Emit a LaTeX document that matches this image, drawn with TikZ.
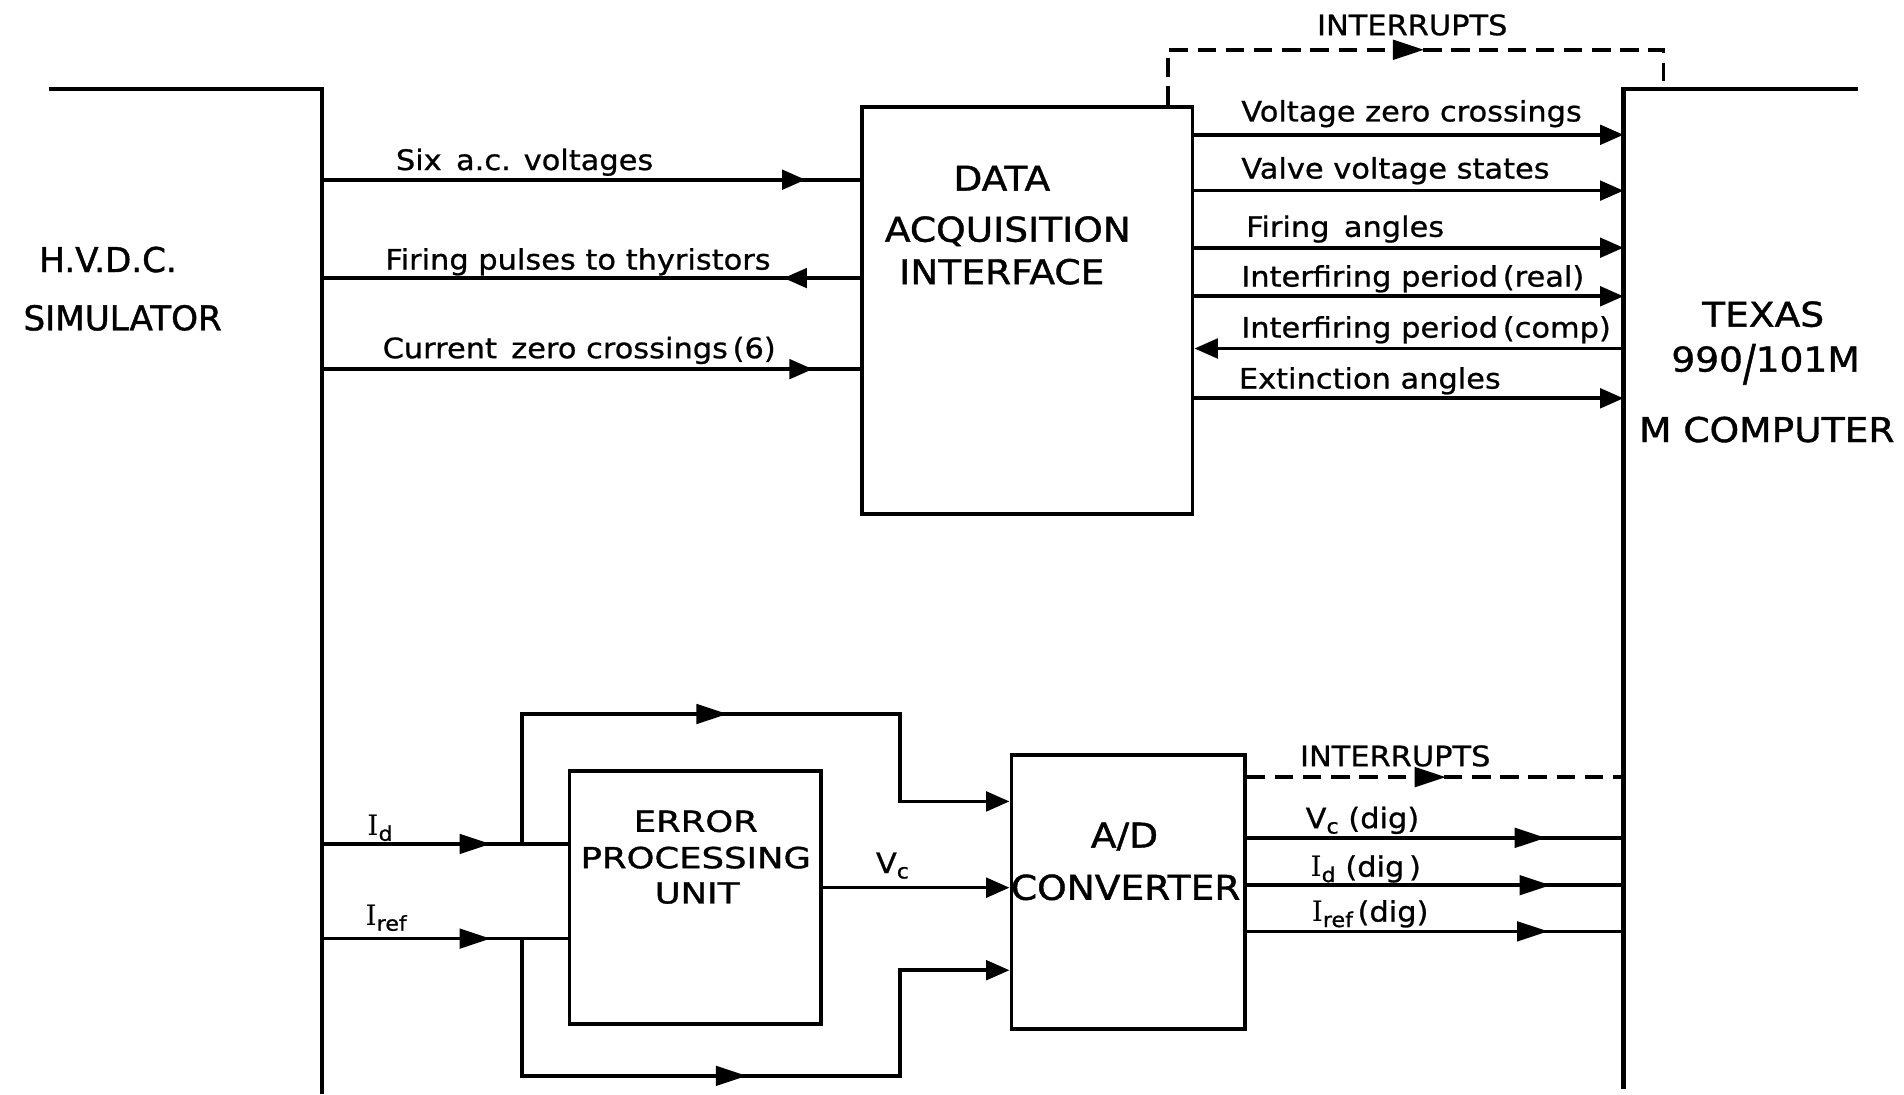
\documentclass[tikz,border=0pt]{standalone}
\usepackage{fontspec}
\usepackage{graphicx}
\setmainfont{DejaVu Sans}
\newfontfamily\serifI{DejaVu Serif}
\usetikzlibrary{arrows.meta,decorations.markings}
\newcommand\sbs[1]{\raisebox{-0.35ex}{\fontsize{12}{12}\selectfont #1}}
\newcommand\Iser{{\serifI I}}
\tikzset{
  wire/.style={line width=2.1pt},
  dashline/.style={line width=2.1pt, dash pattern=on 0.38cm off 0.2cm},
  box/.style={draw, line width=2.3pt, inner sep=0pt},
  lab/.style={inner sep=0pt, font=\fontsize{16.5}{18}\selectfont\addfontfeature{FakeStretch=1.08,FakeBold=0.8}},
  big/.style={inner sep=0pt, font=\fontsize{20}{22}\selectfont\addfontfeature{FakeStretch=1.1,FakeBold=1.2}},
  hv/.style={inner sep=0pt, font=\fontsize{20}{22}\selectfont\addfontfeature{FakeBold=1.2}},
  epulab/.style={inner sep=0pt, font=\fontsize{17}{19}\selectfont\addfontfeature{FakeStretch=1.22,FakeBold=1.2}},
  tipS/.tip={Triangle[length=0.48cm,width=0.4cm]},
  tipL/.tip={Triangle[length=0.64cm,width=0.4cm]},
  midS/.style={postaction={decorate}, decoration={markings, mark=at position #1 with {\arrow{tipS}}}},
  midL/.style={postaction={decorate}, decoration={markings, mark=at position #1 with {\arrow{tipL}}}},
}
\begin{document}
\begin{tikzpicture}[x=0.025cm, y=-0.025cm]
\fill[white] (0,0) rectangle (1568,901);
\path[use as bounding box] (0,0) rectangle (1568,901);

% boxes
\node[box, minimum width=6.8cm, minimum height=8.375cm] (daq) at (846,255.5) {};
\node[box, minimum width=5.175cm, minimum height=5.2cm] (epu) at (572.5,739) {};
\node[box, minimum width=4.8cm, minimum height=5.625cm] (adc) at (929,734.5) {};

% simulator and computer boundaries
\coordinate (simL) at (40,73);
\coordinate (simT) at (265,73);
\coordinate (simB) at (265,901);
\coordinate (cmpR) at (1530,73);
\coordinate (cmpT) at (1337,73);
\coordinate (cmpB) at (1337,897);
\draw[wire, line width=2.4pt] (simL) -- (simT) -- (simB);
\draw[wire, line width=2.4pt] (cmpR) -- (cmpT) -- (cmpB);

% big labels
\node[hv, anchor=base] (hvdc) at (89,224) {H.V.D.C.};
\node[hv, anchor=base] (sim) at (101,272) {SIMULATOR};
\node[big, anchor=base] (t1) at (825,157) {DATA};
\node[big, anchor=base] (t2) at (830,199) {ACQUISITION};
\node[big, anchor=base] (t3) at (825,234) {INTERFACE};
\node[big, anchor=base] (tx1) at (1452,269) {TEXAS};
\node[big, anchor=base] (tx2) at (1454,306) {990\raisebox{-0.25em}{\scalebox{1}[1.45]{/}}101M};
\node[big, anchor=base] (tx3) at (1455,364) {M COMPUTER};
\node[epulab, anchor=base] (e1) at (573,685) {ERROR};
\node[epulab, anchor=base] (e2) at (573,715) {PROCESSING};
\node[epulab, anchor=base] (e3) at (574,744) {UNIT};
\node[big, anchor=base] (a1) at (926,698) {A/D};
\node[big, anchor=base] (a2) at (927,741) {CONVERTER};

% left connectors
\coordinate (s1) at (265,148);
\coordinate (s2) at (265,229);
\coordinate (s3) at (265,304);
\draw[wire, midS=-1.125cm] (s1) -- (s1 -| daq.west);
\draw[wire, midS=1.575cm] (s2 -| daq.west) -- (s2);
\draw[wire, midS=-0.975cm] (s3) -- (s3 -| daq.west);
\node[lab, anchor=base] (l1) at (432,140) {Six\, a.c. voltages};
\node[lab, anchor=base] (l2) at (476,222) {Firing pulses to thyristors};
\node[lab, anchor=base] (l3) at (477,295) {Current\, zero crossings\,(6)};

% right connectors
\coordinate (c1) at (1337,111);
\coordinate (c2) at (1337,157);
\coordinate (c3) at (1337,204);
\coordinate (c4) at (1337,244);
\coordinate (c5) at (1337,287);
\coordinate (c6) at (1337,328);
\draw[wire, -{tipS}] (c1 -| daq.east) -- (c1);
\draw[wire, -{tipS}] (c2 -| daq.east) -- (c2);
\draw[wire, -{tipS}] (c3 -| daq.east) -- (c3);
\draw[wire, -{tipS}] (c4 -| daq.east) -- (c4);
\draw[wire, -{tipS}] (c5) -- (c5 -| daq.east);
\draw[wire, -{tipS}] (c6 -| daq.east) -- (c6);
\node[lab, anchor=base west] (r1) at (1022,100) {Voltage zero crossings};
\node[lab, anchor=base west] (r2) at (1022,147) {Valve voltage states};
\node[lab, anchor=base west] (r3) at (1026,195) {Firing\, angles};
\node[lab, anchor=base west] (r4) at (1022,236) {Interfiring period\,(real)};
\node[lab, anchor=base west] (r5) at (1022,278) {Interfiring period\,(comp)};
\node[lab, anchor=base west] (r6) at (1020,320) {Extinction angles};

% top interrupts
\coordinate (i1) at (962,41);
\coordinate (i2) at (1370,41);
\draw[dashline, midL=6.4cm] (daq.north -| i1) -- (i1) -- (i2) -- (i2 |- cmpT);
\node[lab, anchor=base] (int1) at (1163,29) {INTERRUPTS};

% lower section inputs
\coordinate (d) at (265,695);
\coordinate (r) at (265,773);
\draw[wire, midL=3.475cm] (d) -- (d -| epu.west);
\draw[wire, midL=3.475cm] (r) -- (r -| epu.west);
\node[lab, anchor=base] (lId) at (313,688) {\Iser\sbs{d}};
\node[lab, anchor=base] (lIr) at (318,762) {\Iser\sbs{ref}};

% bypass branches
\coordinate (b1) at (430,695);
\coordinate (b2) at (430,588);
\coordinate (b3) at (741,588);
\coordinate (b4) at (741,660);
\draw[wire, midL=6.9cm, -{tipS}] (b1) -- (b2) -- (b3) -- (b4) -- (b4 -| adc.west);
\coordinate (b5) at (430,773);
\coordinate (b6) at (430,886);
\coordinate (b7) at (741,886);
\coordinate (b8) at (741,799);
\draw[wire, midL=7.45cm, -{tipS}] (b5) -- (b6) -- (b7) -- (b8) -- (b8 -| adc.west);

% Vc
\coordinate (v) at (700,731);
\draw[wire, -{tipS}] (v -| epu.east) -- (v -| adc.west);
\node[lab, anchor=base] (lVc) at (735,719) {V\sbs{c}};

% A/D outputs
\coordinate (j) at (1337,640);
\draw[dashline, midL=4.1cm] (j -| adc.east) -- (j);
\node[lab, anchor=base] (int2) at (1149,631) {INTERRUPTS};
\coordinate (o1) at (1337,690);
\coordinate (o2) at (1337,729);
\coordinate (o3) at (1337,767);
\draw[wire, midL=-1.6cm] (o1 -| adc.east) -- (o1);
\draw[wire, midL=-1.5cm] (o2 -| adc.east) -- (o2);
\draw[wire, midL=-1.55cm] (o3 -| adc.east) -- (o3);
\node[lab, anchor=base west] (lVd) at (1075,682) {V\sbs{c} (dig)};
\node[lab, anchor=base west] (lIdd) at (1079,722) {\Iser\sbs{d} (dig\,)};
\node[lab, anchor=base west] (lIrd) at (1080,759) {\Iser\sbs{ref}\,(dig)};
\end{tikzpicture}
\end{document}
